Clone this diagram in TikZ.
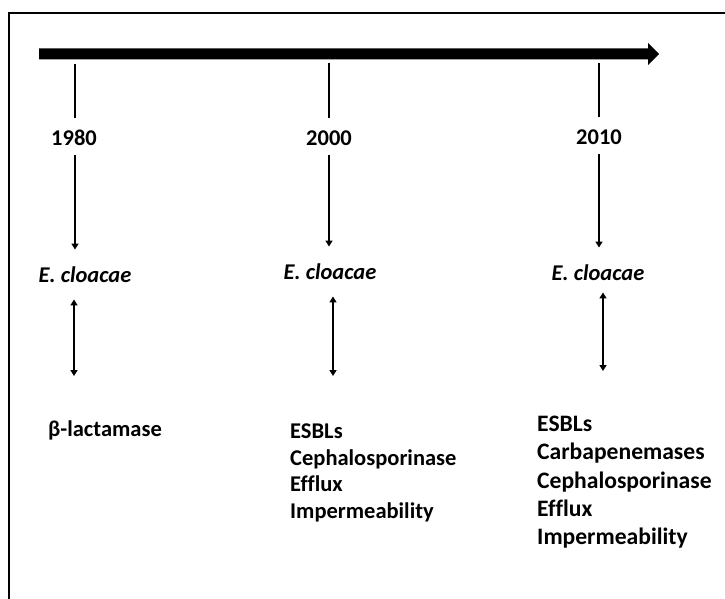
\documentclass[tikz,border=0pt]{standalone}
\usepackage{fontspec}
\setmainfont[Ligatures={NoCommon}]{Carlito}
\usetikzlibrary{arrows.meta}
\begin{document}
\begin{tikzpicture}[x=1pt,y=-1pt,
  lbl/.style={font=\fontsize{22.5}{26.5}\selectfont\bfseries, inner sep=0pt, text height=14.5pt, text depth=0pt},
  spec/.style={font=\fontsize{22.5}{26.5}\selectfont\bfseries\itshape, inner sep=0pt, text height=14.5pt, text depth=0pt},
  lst/.style={font=\fontsize{22.5}{26.5}\selectfont\bfseries, inner sep=0pt, align=left, anchor=north west},
  lstb/.style={font=\fontsize{23.6}{28.2}\selectfont\bfseries, inner sep=0pt, align=left, anchor=north west},
  tick/.style={line width=1.8pt},
  arr/.style={line width=1.8pt, -{Triangle[length=6pt,width=7pt]}},
  darr/.style={line width=1.8pt, {Triangle[length=6pt,width=7pt]}-{Triangle[length=6pt,width=7pt]}}]
\useasboundingbox (0,0) rectangle (725,599);
% frame
\draw[line width=1.5pt] (9,620) -- (9,13) -- (740,13);
% timeline
\coordinate (tl) at (39,54);
\coordinate (tr) at (659,54);
\fill ([yshift=5.5pt]tl) -- (648,48.5) -- (648,43) -- (tr) -- (648,65) -- (648,59.5) -- ([yshift=-5.5pt]tl) -- cycle;
% ticks
\coordinate (t1) at (75,64);
\coordinate (t2) at (329,63);
\coordinate (t3) at (599,63);
% years
\node[lbl] (y1) at (74,138) {1980};
\node[lbl] (y2) at (329,138) {2000};
\node[lbl] (y3) at (599,137) {2010};
% species
\node[spec] (e1) at (85,275) {E. cloacae};
\node[spec] (e2) at (330,272) {E. cloacae};
\node[spec] (e3) at (598,273) {E. cloacae};
% lists
\node[lst] (l1) at (48,421) {β-lactamase};
\node[lst] (l2) at (290,424) {ESBLs\\Cephalosporinase\\Efflux\\Impermeability};
\node[lstb] (l3) at (537,416) {ESBLs\\Carbapenemases\\Cephalosporinase\\Efflux\\Impermeability};
% connectors
\foreach \i in {1,2,3} {
  \draw[tick, shorten >=13pt] (t\i) -- (t\i |- y\i.north);
  \draw[arr, shorten <=10pt, shorten >=18pt] (t\i |- y\i.south) -- (t\i |- e\i.north);
}
\draw[darr, shorten <=17pt, shorten >=45pt] ([xshift=-11pt]e1.south) -- ([xshift=-11pt]e1.south |- l1.north);
\draw[darr, shorten <=17pt, shorten >=48pt] ([xshift=3pt]e2.south) -- ([xshift=3pt]e2.south |- l2.north);
\draw[darr, shorten <=12pt, shorten >=45pt] ([xshift=5pt]e3.south) -- ([xshift=5pt]e3.south |- l3.north);
\end{tikzpicture}
\end{document}
